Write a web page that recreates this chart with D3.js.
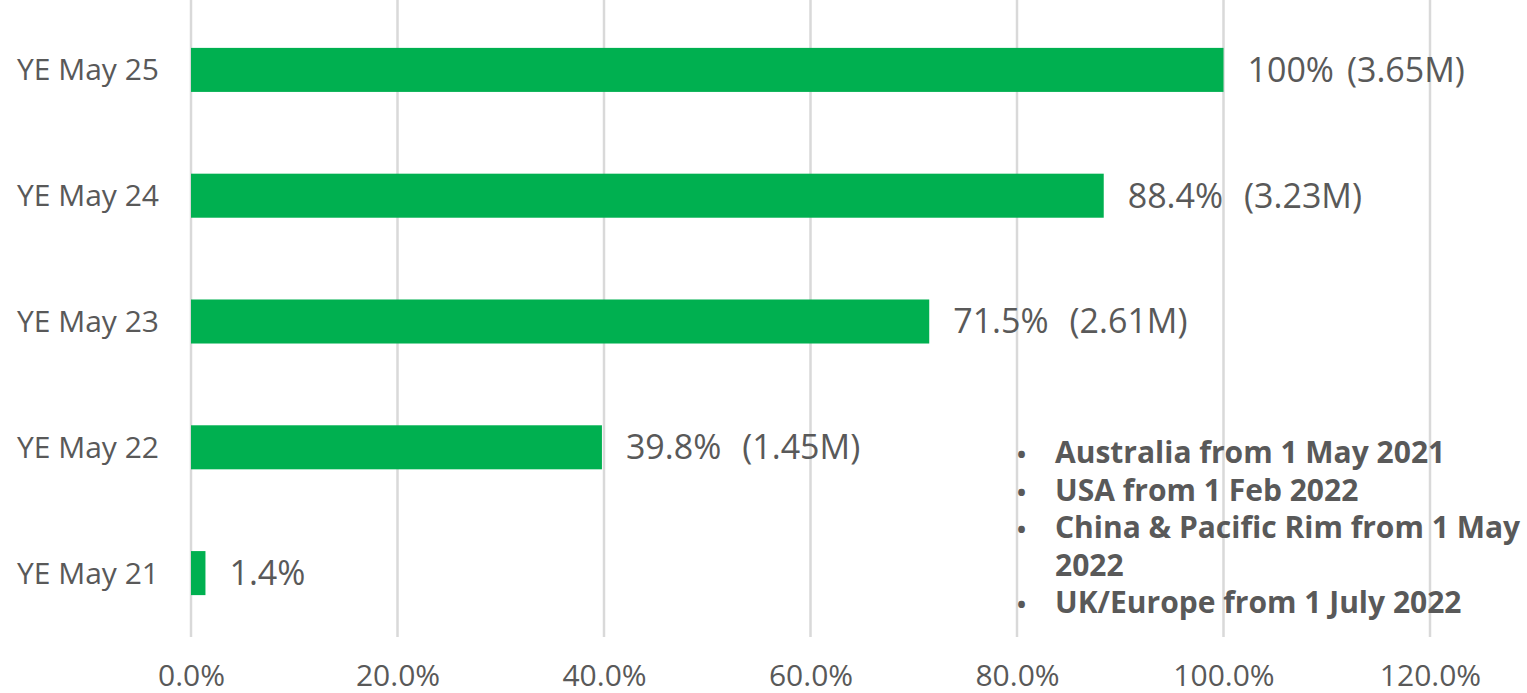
<!DOCTYPE html>
<html>
<head>
<meta charset="utf-8">
<script src="https://cdn.jsdelivr.net/npm/d3@7"></script>
<style>
  html, body { margin: 0; padding: 0; background: #fff; }
  svg text { font-family: "Open Sans", "Noto Sans", sans-serif; fill: #595959; }
</style>
</head>
<body>
<svg id="chart" width="1527" height="693"></svg>
<script>
// Share of full volume by year ending May
const categories = ["YE May 25", "YE May 24", "YE May 23", "YE May 22", "YE May 21"];
const shares = [100, 88.4, 71.5, 39.8, 1.4];           // percent of YE May 25
const volumes = [3.65, 3.23, 2.61, 1.45, null];        // millions
const xTicks = [0, 20, 40, 60, 80, 100, 120];
const notes = [
  ["Australia from 1 May 2021"],
  ["USA from 1 Feb 2022"],
  ["China & Pacific Rim from 1 May", "2022"],
  ["UK/Europe from 1 July 2022"]
];

const svg = d3.select("#chart");
const plotLeft = 191, plotRight = 1430, bandTop = 7, bandBottom = 636, gridTop = 0, gridBottom = 637;

const x = d3.scaleLinear().domain([0, 120]).range([plotLeft, plotRight]);
const y = d3.scaleBand().domain(categories).range([bandTop, bandBottom])
  .paddingInner(0.65).paddingOuter(0.325);

// vertical gridlines
svg.append("g").selectAll("line").data(xTicks).join("line")
  .attr("x1", d => x(d)).attr("x2", d => x(d))
  .attr("y1", gridTop).attr("y2", gridBottom)
  .attr("stroke", "#d9d9d9").attr("stroke-width", 2.5);

// x tick labels
const xAxis = d3.axisBottom(x).tickValues(xTicks).tickSize(0).tickPadding(0)
  .tickFormat(d => d.toFixed(1) + "%");
const gx = svg.append("g").attr("transform", `translate(0,${gridBottom})`).call(xAxis);
gx.select(".domain").remove();
gx.selectAll("text").attr("y", 38).attr("dy", "0.35em")
  .style("font-size", "30px").style("fill", "#595959");

// y category labels
const yAxis = d3.axisLeft(y).tickSize(0).tickPadding(0);
const gy = svg.append("g").attr("transform", `translate(${plotLeft - 32},0)`).call(yAxis);
gy.select(".domain").remove();
gy.selectAll("text").attr("dy", "0.35em")
  .style("font-size", "30px").style("fill", "#595959");

// bars
const rows = categories.map((c, i) => ({ c, v: shares[i], m: volumes[i] }));
svg.append("g").selectAll("rect").data(rows).join("rect")
  .attr("x", x(0)).attr("y", d => y(d.c))
  .attr("width", d => x(d.v) - x(0)).attr("height", y.bandwidth())
  .attr("fill", "#00b050");

// value labels
const fmtPct = v => (v === 100 ? "100" : v.toFixed(1)) + "%";
const labels = svg.append("g").selectAll("text").data(rows).join("text")
  .attr("x", d => x(d.v) + 24)
  .attr("y", d => y(d.c) + y.bandwidth() / 2)
  .attr("dy", "0.35em")
  .style("font-size", "34px");
labels.append("tspan").text(d => fmtPct(d.v));
labels.filter(d => d.m != null).append("tspan")
  .attr("dx", d => d.v === 100 ? 13 : 21)
  .text(d => `(${d.m.toFixed(2)}M)`);

// launch notes
const lines = [];
notes.forEach(n => n.forEach((t, j) => lines.push({ t, bullet: j === 0 })));
const ng = svg.append("g");
lines.forEach((l, i) => {
  const yy = 463 + i * 37.5;
  if (l.bullet) {
    ng.append("text").attr("x", 1017).attr("y", yy).text("•")
      .style("font-size", "24px").style("font-weight", 700);
  }
  ng.append("text").attr("x", 1055).attr("y", yy).text(l.t)
    .style("font-size", "30px").style("font-weight", 700);
});
</script>
</body>
</html>
